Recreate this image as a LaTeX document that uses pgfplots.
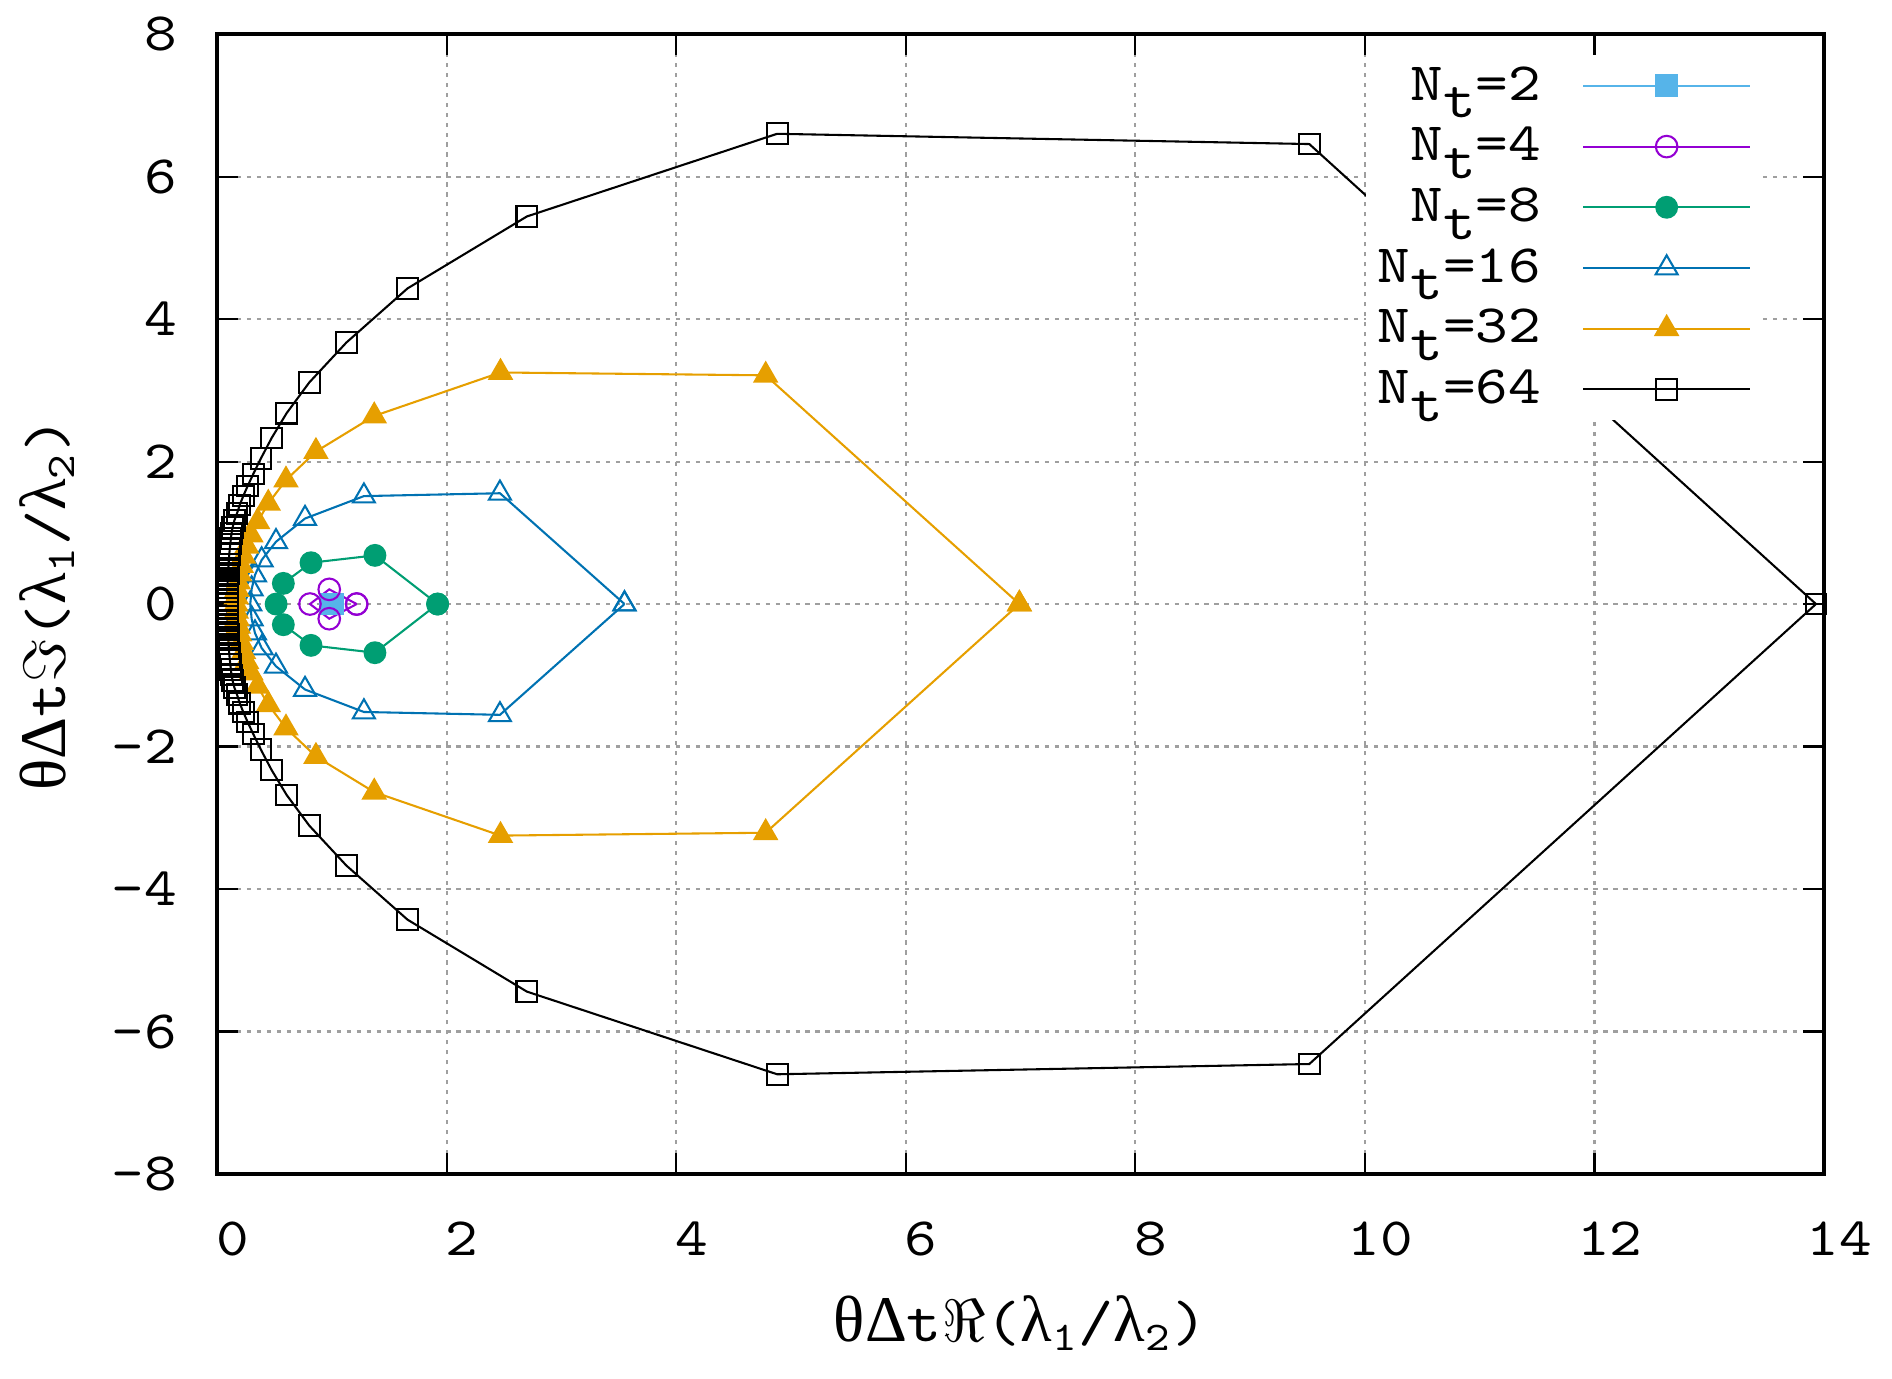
\documentclass[border=0pt]{standalone}
\usepackage{fontspec}
\setmonofont{lmmono10-regular.otf}[FakeStretch=1.15]
\newfontfamily\gk{Liberation Serif}[Scale=1.12]
\usepackage{pgfplots}
\pgfplotsset{compat=1.18}
\definecolor{cA}{HTML}{56B4E9}
\definecolor{cB}{HTML}{9400D3}
\definecolor{cC}{HTML}{009E73}
\definecolor{cD}{HTML}{0072B2}
\definecolor{cE}{HTML}{E69F00}
\newcommand{\Nt}[1]{N\raisebox{-4.3pt}{t}=#1}
\begin{document}
\begin{tikzpicture}
\begin{axis}[
  scale only axis, width=13.59cm, height=9.64cm,
  xmin=0, xmax=14, ymin=-8, ymax=8,
  xtick={0,2,...,14}, ytick={-8,-6,...,8},
  tick align=inside, xtick pos=both, ytick pos=both,
  major tick length=0.175cm,
  every tick/.style={black, line width=0.5pt},
  axis line style={line width=1pt},
  grid=major,
  major grid style={gray!75, line width=0.5pt, dash pattern=on 1pt off 1.4pt},
  /pgf/number format/assume math mode=true,
  ticklabel style={font=\fontsize{13}{15}\selectfont\ttfamily},
  xticklabel style={inner ysep=0pt, yshift=-0.40cm, xshift=0.13cm},
  yticklabel style={inner xsep=0pt, xshift=-0.33cm},
  xlabel={{\gk θΔ}t$\Re$({\gk λ}\textsubscript{1}/{\gk λ}\textsubscript{2})},
  ylabel={{\gk θΔ}t$\Im$({\gk λ}\textsubscript{1}/{\gk λ}\textsubscript{2})},
  label style={font=\fontsize{14}{16}\selectfont\ttfamily},
  xlabel style={at={(axis description cs:0.5,-0.1473)}, anchor=base},
  ylabel style={at={(axis description cs:-0.094,0.5)}, anchor=base},
  legend plot pos=right,
  legend cell align=right,
  legend image code/.code={\draw[mark repeat=2,mark phase=2,#1] plot coordinates {(0cm,0cm) (0.705cm,0cm) (1.41cm,0cm)};},
  legend style={at={(axis description cs:1,1)}, anchor=north east, xshift=-0.51cm, yshift=-0.17cm,
    draw=none, fill=white, inner xsep=0.1cm, inner ysep=0.1cm,
    font=\fontsize{13}{15}\selectfont\ttfamily,
    /tikz/column sep=0.35cm, /tikz/row sep=5.4pt,
    nodes={inner sep=0pt, text height=8pt, text depth=1.2pt}},
]
\addplot[color=cA, line width=0.5pt, mark=square*, mark size=2.5pt, mark options={solid, fill=cA}]
coordinates {(0.99,0) (1.01,0)};
\addlegendentry{\Nt{2}}
\addplot[color=cB, line width=0.5pt, mark=o, mark size=2.6pt, mark options={solid}]
coordinates {(1.217,0) (0.978,0.206) (0.81,0) (0.978,-0.206) (1.217,0)};
\addlegendentry{\Nt{4}}
\addplot[color=cC, line width=0.5pt, mark=*, mark size=2.5pt, mark options={solid, fill=cC}]
coordinates {(1.922,0) (1.376,0.683) (0.819,0.58) (0.578,0.29) (0.515,0) (0.578,-0.29) (0.819,-0.58) (1.376,-0.683) (1.922,0)};
\addlegendentry{\Nt{8}}
\addplot[color=cD, line width=0.5pt, mark=triangle, mark size=3.05pt, mark options={solid}]
coordinates {(3.55,0) (2.465,1.555) (1.28,1.515) (0.767,1.2) (0.514,0.874) (0.389,0.618) (0.331,0.407) (0.302,0.21) (0.29,0)
 (0.302,-0.21) (0.331,-0.407) (0.389,-0.618) (0.514,-0.874) (0.767,-1.2) (1.28,-1.515) (2.465,-1.555) (3.55,0)};
\addlegendentry{\Nt{16}}
\addplot[color=cE, line width=0.5pt, mark=triangle*, mark size=3.05pt, mark options={solid, fill=cE}]
coordinates {(6.99,0) (4.78,3.21) (2.47,3.25) (1.37,2.64) (0.862,2.14) (0.601,1.74) (0.447,1.413) (0.354,1.155) (0.296,0.968)
 (0.259,0.81) (0.232,0.67) (0.212,0.54) (0.197,0.42) (0.185,0.31) (0.175,0.205) (0.168,0.10) (0.165,0)
 (0.168,-0.10) (0.175,-0.205) (0.185,-0.31) (0.197,-0.42) (0.212,-0.54) (0.232,-0.67) (0.259,-0.81)
 (0.296,-0.968) (0.354,-1.155) (0.447,-1.413) (0.601,-1.74) (0.862,-2.14) (1.37,-2.64) (2.47,-3.25) (4.78,-3.21) (6.99,0)};
\addlegendentry{\Nt{32}}
\addplot[color=black, line width=0.5pt, mark=square, mark size=2.5pt, mark options={solid}]
coordinates {(13.93,0) (9.516,6.456) (4.88,6.60) (2.70,5.44) (1.66,4.43) (1.127,3.67) (0.804,3.11) (0.607,2.68) (0.476,2.33)
 (0.383,2.045) (0.316,1.825) (0.267,1.656) (0.229,1.516) (0.198,1.39) (0.174,1.27) (0.151,1.17) (0.136,1.076)
 (0.127,0.995) (0.121,0.918) (0.116,0.843) (0.111,0.770) (0.107,0.698) (0.104,0.628) (0.101,0.560) (0.099,0.493)
 (0.097,0.427) (0.095,0.362) (0.093,0.298) (0.092,0.235) (0.091,0.173) (0.090,0.113) (0.090,0.055) (0.090,0)
 (0.090,-0.055) (0.090,-0.113) (0.091,-0.173) (0.092,-0.235) (0.093,-0.298) (0.095,-0.362) (0.097,-0.427)
 (0.099,-0.493) (0.101,-0.560) (0.104,-0.628) (0.107,-0.698) (0.111,-0.770) (0.116,-0.843) (0.121,-0.918)
 (0.127,-0.995) (0.136,-1.076) (0.151,-1.17) (0.174,-1.27) (0.198,-1.39) (0.229,-1.516) (0.267,-1.656)
 (0.316,-1.825) (0.383,-2.045) (0.476,-2.33) (0.607,-2.68) (0.804,-3.11) (1.127,-3.67) (1.66,-4.43)
 (2.70,-5.44) (4.88,-6.60) (9.516,-6.456) (13.93,0)};
\addlegendentry{\Nt{64}}
\end{axis}
\pgfresetboundingbox
\path[use as bounding box] ([xshift=-1.835cm,yshift=-1.725cm]current axis.south west) rectangle ([xshift=0.575cm,yshift=0.288cm]current axis.north east);
\end{tikzpicture}
\end{document}
